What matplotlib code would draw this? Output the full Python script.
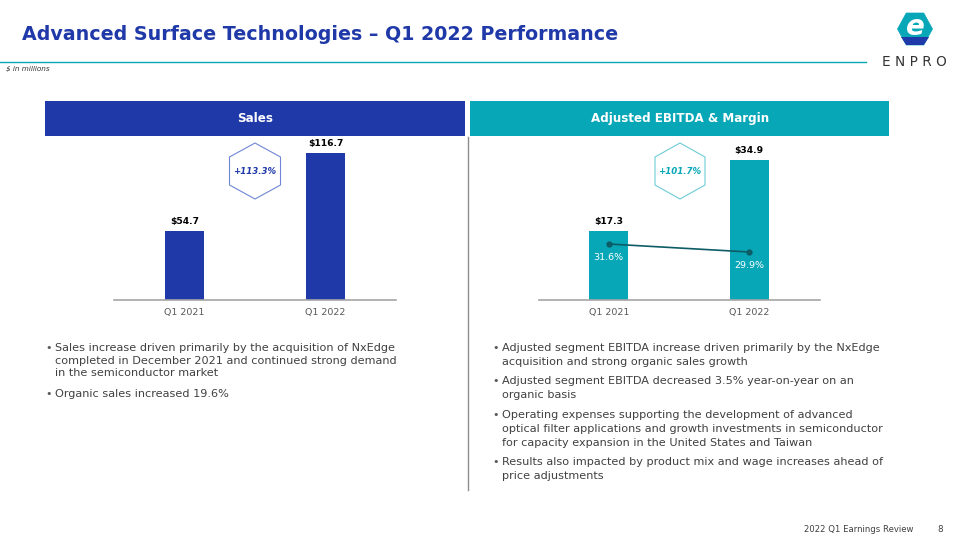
import matplotlib.pyplot as plt
from matplotlib.patches import Polygon, Rectangle

W, H = 959, 540

# data
periods = ["Q1 2021", "Q1 2022"]
sales = [54.7, 116.7]
ebitda = [17.3, 34.9]
margin = [31.6, 29.9]
sales_growth = "+113.3%"
ebitda_growth = "+101.7%"

title = "Advanced Surface Technologies \u2013 Q1 2022 Performance"
left_bullets = [
    ["Sales increase driven primarily by the acquisition of NxEdge",
     "completed in December 2021 and continued strong demand",
     "in the semiconductor market"],
    ["Organic sales increased 19.6%"],
]
right_bullets = [
    ["Adjusted segment EBITDA increase driven primarily by the NxEdge",
     "acquisition and strong organic sales growth"],
    ["Adjusted segment EBITDA decreased 3.5% year-on-year on an",
     "organic basis"],
    ["Operating expenses supporting the development of advanced",
     "optical filter applications and growth investments in semiconductor",
     "for capacity expansion in the United States and Taiwan"],
    ["Results also impacted by product mix and wage increases ahead of",
     "price adjustments"],
]

BLUE = "#2039a9"
TEAL = "#07a7b8"
DARK_TEAL = "#0d5c66"
TEXT = "#404040"
GRAY = "#a6a6a6"


def fx(x):
    return x / W


def fy(y):
    return 1 - y / H


def hexagon(fig, cx, cy, w, h, color, lw=0.8, fill=False, vertical=True):
    if vertical:
        pts = [(cx, cy - h / 2), (cx + w / 2, cy - h / 4), (cx + w / 2, cy + h / 4),
               (cx, cy + h / 2), (cx - w / 2, cy + h / 4), (cx - w / 2, cy - h / 4)]
    else:
        pts = [(cx - w / 4, cy - h / 2), (cx + w / 4, cy - h / 2), (cx + w / 2, cy),
               (cx + w / 4, cy + h / 2), (cx - w / 4, cy + h / 2), (cx - w / 2, cy)]
    pts = [(fx(x), fy(y)) for x, y in pts]
    p = Polygon(pts, closed=True, transform=fig.transFigure, fill=fill,
                facecolor=color if fill else "none", edgecolor=color, lw=lw,
                joinstyle="round")
    fig.add_artist(p)
    return p


def bullets(fig, x, y0, blocks, line_h, gap, size=8.1):
    y = y0
    for block in blocks:
        fig.text(fx(x - 6), fy(y), "\u2022", size=size, color="#595959", ha="center", va="center")
        for line in block:
            fig.text(fx(x), fy(y), line, size=size, color=TEXT, ha="left", va="center")
            y += line_h
        y += gap - line_h


def bar_panel(fig, box, values, color, ymax):
    left, right, bottom, top = box
    ax = fig.add_axes([fx(left), fy(bottom), (right - left) / W, (bottom - top) / H])
    x = range(len(values))
    ax.bar(x, values, width=0.28, color=color, zorder=2)
    for i, v in enumerate(values):
        ax.annotate(f"${v}", (i, v), xytext=(0, 7), textcoords="offset points",
                    ha="center", va="center", size=6.6, fontweight="bold", color="black")
    ax.set_xlim(-0.5, 1.5)
    ax.set_ylim(0, ymax)
    ax.set_xticks(list(x))
    ax.set_xticklabels(periods, size=6.8, color="#595959")
    ax.tick_params(axis="x", length=0, pad=6)
    ax.set_yticks([])
    for s in ["top", "left", "right"]:
        ax.spines[s].set_visible(False)
    ax.spines["bottom"].set_color(GRAY)
    ax.spines["bottom"].set_linewidth(1.2)
    ax.patch.set_alpha(0)
    return ax


fig = plt.figure(figsize=(9.59, 5.4), dpi=100)

# title and rule
fig.text(fx(22), fy(34), title, size=13.7, fontweight="bold", color=BLUE, ha="left", va="center")
fig.add_artist(plt.Line2D([0, fx(866)], [fy(62), fy(62)], color=TEAL, lw=1.0, transform=fig.transFigure))
fig.text(fx(6), fy(69), "$ in millions", size=5.2, style="italic", color="#333333", ha="left", va="center")

# logo
hexagon(fig, 915, 29, 35, 32, TEAL, lw=0.5, fill=True, vertical=False)
fig.add_artist(Polygon([(fx(x), fy(y)) for x, y in
                        [(901, 37), (929, 37), (923.75, 45), (906.25, 45)]],
                       closed=True, transform=fig.transFigure, color=BLUE, lw=0))
fig.text(fx(915), fy(27), "e", size=20, fontweight="bold", style="italic", color="white",
         ha="center", va="center")
fig.text(fx(914.5), fy(62), "E N P R O", size=9.8, color="#333333", ha="center", va="center")

# panel headers
fig.add_artist(Rectangle((fx(45), fy(136)), (465 - 45) / W, 35 / H, transform=fig.transFigure,
                         color=BLUE, lw=0))
fig.add_artist(Rectangle((fx(470), fy(136)), (889 - 470) / W, 35 / H, transform=fig.transFigure,
                         color=TEAL, lw=0))
fig.text(fx(255), fy(118.5), "Sales", size=8.6, fontweight="bold", color="white", ha="center", va="center")
fig.text(fx(680), fy(118.5), "Adjusted EBITDA & Margin", size=8.6, fontweight="bold", color="white",
         ha="center", va="center")
fig.add_artist(plt.Line2D([fx(467.5), fx(467.5)], [fy(137), fy(490)], color="#8c8c8c", lw=1.0,
                          transform=fig.transFigure))

# charts
ax_l = bar_panel(fig, (114, 396, 300, 140), sales, BLUE, 127)
ax_r = bar_panel(fig, (538.5, 819.5, 300, 140), ebitda, TEAL, 40)

ax_m = ax_r.twinx()
ax_m.plot(range(len(margin)), margin, color=DARK_TEAL, lw=1.2, marker="o", markersize=3.5, zorder=3)
for i, m in enumerate(margin):
    ax_m.annotate(f"{m}%", (i, m), xytext=(0, -9.5), textcoords="offset points",
                  ha="center", va="center", size=6.8, color="white")
ax_m.set_ylim(19.7, 53.7)
ax_m.set_yticks([])
for s in ax_m.spines.values():
    s.set_visible(False)

# growth hexagons
hexagon(fig, 255, 171, 51, 56, "#6f86d6")
fig.text(fx(255), fy(171), sales_growth, size=6.2, fontweight="bold", style="italic", color=BLUE,
         ha="center", va="center")
hexagon(fig, 680, 171, 50, 56, "#6cccd6")
fig.text(fx(680), fy(171), ebitda_growth, size=6.2, fontweight="bold", style="italic", color=TEAL,
         ha="center", va="center")

# bullets
bullets(fig, 55, 348.3, left_bullets, 12.2, 21.6)
bullets(fig, 502, 347.7, right_bullets, 14, 19.5)

# footer
fig.text(fx(914), fy(529), "2022 Q1 Earnings Review", size=6.1, color=TEXT, ha="right", va="center")
fig.text(fx(940), fy(529), "8", size=6.3, color=TEXT, ha="center", va="center")

fig.savefig("out.png", dpi=100)
